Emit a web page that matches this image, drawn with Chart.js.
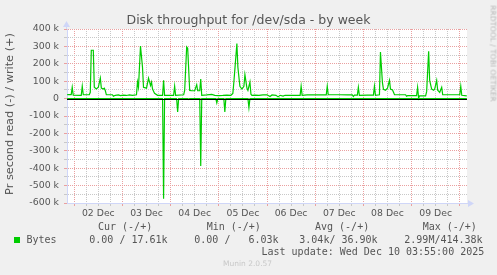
<!DOCTYPE html>
<html>
<head>
<meta charset="utf-8">
<script src="https://cdn.jsdelivr.net/npm/chart.js@4.4.1/dist/chart.umd.min.js"></script>
<style>
  html, body { margin: 0; padding: 0; background: #f0f0f0; }
  #wrap { position: relative; width: 497px; height: 275px; overflow: hidden; }
  #chart { position: absolute; left: 0; top: 0; }
  .txt { position: absolute; white-space: pre; color: #555; }
  .sans { font-family: "DejaVu Sans", sans-serif; }
  .mono { font-family: "DejaVu Sans Mono", monospace; font-size: 10px; line-height: 12px; }
</style>
</head>
<body>
<div id="wrap">
  <canvas id="chart" width="497" height="275"></canvas>
  <div class="txt sans" id="title" style="left:0; width:497px; text-align:center; top:13px; font-size:12.5px; line-height:13px;"></div>
  <div class="txt sans" id="ylabel" style="left:-90px; top:108px; width:200px; text-align:center; font-size:11.3px; line-height:12px; transform:rotate(-90deg);"></div>
  <div class="txt sans" id="side" style="left:443px; top:49px; width:100px; text-align:center; font-size:7.5px; line-height:9px; color:#b8b8b8; transform:rotate(90deg);"></div>
  <div id="legend"></div>
  <div class="txt sans" id="munin" style="left:223px; top:259px; font-size:7.5px; line-height:10px; color:#c8c8c8;"></div>
</div>
<script>
// hours since 01 Dec 00:00, throughput in k
const writeHours = [20.5, 22.5, 23.0, 23.5, 27.5, 28.0, 28.5, 31.5, 32.0, 32.5, 33.5, 34.0, 35.0, 36.0, 37.0, 37.5, 38.5, 39.0, 39.5, 40.0,
  43.0, 43.5, 44.5, 46.0, 47.0, 48.5, 50.0, 51.5, 53.0, 55.0, 55.5, 56.0, 57.0, 58.0, 58.5, 60.0, 61.0, 62.0, 62.5, 63.0,
  64.0, 65.5, 68.0, 68.5, 69.0, 73.5, 74.0, 74.5, 78.5, 79.0, 80.0, 80.5, 81.5, 82.5, 84.0, 85.0, 85.5, 86.5, 87.0, 87.5,
  90.0, 92.5, 94.0, 96.0, 98.0, 100.0, 102.0, 103.0, 103.5, 105.0, 105.5, 106.5, 107.5, 108.5, 109.0, 110.0, 110.5, 111.5, 112.0, 112.5,
  114.0, 116.0, 118.0, 120.0, 121.5, 122.5, 124.5, 125.5, 126.5, 128.0, 129.0, 136.5, 137.0, 137.5, 140.0, 149.5, 150.0, 150.5, 156.0, 160.0,
  162.5, 163.0, 163.5, 165.0, 165.5, 166.0, 170.0, 173.0, 173.5, 174.0, 176.0, 176.5, 177.5, 178.0, 179.0, 180.0, 181.0, 181.5, 182.5, 183.0,
  183.5, 189.0, 189.5, 190.0, 194.5, 195.0, 195.5, 196.0, 199.0, 199.5, 200.5, 201.0, 202.0, 203.0, 203.5, 204.5, 205.0, 206.0, 207.0, 207.5,
  216.0, 216.5, 217.0, 219.5];
const writeKB = [23, 23, 65, 20, 19, 71, 22, 22, 36, 278, 278, 65, 55, 65, 118, 60, 55, 60, 45, 22,
  22, 14, 19, 21, 17, 20, 18, 21, 19, 22, 95, 65, 302, 180, 65, 60, 118, 75, 95, 55,
  30, 19, 19, 105, 19, 19, 71, 19, 22, 47, 297, 290, 47, 45, 45, 80, 45, 45, 112, 19,
  21, 24, 19, 17, 18, 20, 19, 30, 95, 316, 180, 71, 55, 71, 138, 60, 47, 95, 25, 19,
  20, 19, 21, 22, 12, 21, 19, 10, 19, 14, 19, 19, 71, 19, 21, 21, 71, 22, 22, 21,
  21, 12, 20, 20, 65, 19, 20, 20, 71, 19, 22, 268, 90, 53, 48, 60, 105, 55, 50, 36,
  22, 22, 14, 17, 17, 65, 3, 16, 16, 40, 272, 105, 55, 48, 55, 105, 48, 36, 65, 22,
  22, 71, 19, 16];

const readHours = [20.5, 68.0, 68.5, 69.0, 75.0, 75.5, 76.0, 80.5, 81.0, 81.5, 86.5, 87.0, 87.5,
  94.5, 95.0, 95.5, 98.5, 99.0, 99.5, 110.5, 111.0, 111.5, 195.0, 195.5, 196.0, 219.5];
const readKB = [0, 0, 575, 0, 0, 77, 0, 0, 5, 0, 0, 387, 0,
  0, 25, 0, 0, 77, 0, 0, 52, 0, 0, 5, 0, 0];

const dayLabels = ['02 Dec', '03 Dec', '04 Dec', '05 Dec', '06 Dec', '07 Dec', '08 Dec', '09 Dec'];
const yTicks = [-600, -550, -500, -450, -400, -350, -300, -250, -200, -150, -100, -50, 0,
  50, 100, 150, 200, 250, 300, 350, 400];

const legendHeaders = ['Cur (-/+)', 'Min (-/+)', 'Avg (-/+)', 'Max (-/+)'];
const legendValues = ['0.00 / 17.61k', '0.00 /   6.03k', '3.04k/ 36.90k', '2.99M/414.38k'];

const GREEN = '#00cc00';
const AXIS = '#cfd6f8';
const MGRID = '#eaa0a0';
const GRID = '#c8c8c8';

// texts
document.getElementById('title').textContent = 'Disk throughput for /dev/sda - by week';
document.getElementById('ylabel').textContent = 'Pr second read (-) / write (+)';
document.getElementById('side').textContent = 'RRDTOOL / TOBI OETIKER';
document.getElementById('munin').textContent = 'Munin 2.0.57';

const legend = document.getElementById('legend');
const headerX = [98, 206.7, 315, 422.7];
const valueX = [89.3, 194.3, 299.3, 404.3];
let html = '';
legendHeaders.forEach((t, i) => {
    html += `<div class="txt mono" style="left:${headerX[i]}px; top:221px;">${t}</div>`;
});
html += `<div style="position:absolute; left:14px; top:237px; width:6px; height:6px; background:${GREEN};"></div>`;
html += `<div class="txt mono" style="left:26.5px; top:234px;">Bytes</div>`;
legendValues.forEach((t, i) => {
    html += `<div class="txt mono" style="left:${valueX[i]}px; top:234px;">${t}</div>`;
});
html += `<div class="txt mono" style="left:261.5px; top:246px;">Last update: Wed Dec 10 03:55:00 2025</div>`;
legend.innerHTML = html;

// x grid every 6 hours from 02 Dec 00:00 to 10 Dec 00:00
const xTicks = [];
for (let h = 24; h <= 24 * (dayLabels.length + 1); h += 6) xTicks.push(h);

const canvasBg = {
    id: 'canvasBg',
    beforeDraw(chart) {
        const { ctx, chartArea: a } = chart;
        ctx.save();
        ctx.fillStyle = '#ffffff';
        ctx.fillRect(a.left, a.top, a.right - a.left, a.bottom - a.top);
        ctx.restore();
    }
};

const zeroLine = {
    id: 'zeroLine',
    afterDatasetsDraw(chart) {
        const { ctx, chartArea: a, scales } = chart;
        const y = Math.round(scales.y.getPixelForValue(0)) + 0.5;
        ctx.save();
        ctx.strokeStyle = '#000000';
        ctx.lineWidth = 1;
        ctx.beginPath();
        ctx.moveTo(a.left, y);
        ctx.lineTo(a.right, y);
        ctx.stroke();
        ctx.restore();
    }
};

const arrows = {
    id: 'arrows',
    afterDraw(chart) {
        const { ctx, chartArea: a } = chart;
        const x = Math.round(a.left) - 0.5;
        const y = Math.round(a.bottom) + 0.5;
        ctx.save();
        ctx.strokeStyle = AXIS;
        ctx.fillStyle = AXIS;
        ctx.lineWidth = 1;
        ctx.beginPath();
        ctx.moveTo(x, a.top);
        ctx.lineTo(x, a.top - 3);
        ctx.moveTo(a.right, y);
        ctx.lineTo(a.right + 3, y);
        ctx.stroke();
        ctx.beginPath();
        ctx.moveTo(x - 3.5, a.top - 2);
        ctx.lineTo(x + 3.5, a.top - 2);
        ctx.lineTo(x, a.top - 8);
        ctx.closePath();
        ctx.fill();
        ctx.beginPath();
        ctx.moveTo(a.right + 1, y - 3.5);
        ctx.lineTo(a.right + 1, y + 3.5);
        ctx.lineTo(a.right + 7, y);
        ctx.closePath();
        ctx.fill();
        ctx.restore();
    }
};

new Chart(document.getElementById('chart'), {
    type: 'line',
    data: {
        datasets: [{
            label: 'read',
            data: readHours.map((h, i) => ({ x: h, y: -readKB[i] })),
            borderColor: GREEN,
            borderWidth: 1.2,
            pointRadius: 0,
            tension: 0
        }, {
            label: 'write',
            data: writeHours.map((h, i) => ({ x: h, y: writeKB[i] })),
            borderColor: GREEN,
            borderWidth: 1.2,
            pointRadius: 0,
            tension: 0
        }]
    },
    options: {
        responsive: false,
        animation: false,
        events: [],
        layout: { padding: { top: 29, right: 30, bottom: 52, left: 0 } },
        plugins: {
            legend: { display: false },
            tooltip: { enabled: false },
            title: { display: false }
        },
        scales: {
            x: {
                type: 'linear',
                min: 20.4,
                max: 219.6,
                afterBuildTicks: (s) => { s.ticks = xTicks.map(v => ({ value: v })); },
                afterFit: (s) => { s.height = 20; },
                ticks: {
                    autoSkip: false,
                    maxRotation: 0,
                    padding: 2,
                    color: '#555',
                    font: { family: 'DejaVu Sans', size: 9.3 },
                    callback: (v) => (v % 24 === 12 ? dayLabels[(v - 12) / 24 - 1] : '')
                },
                grid: {
                    color: (c) => (c.tick && c.tick.value % 24 === 0 ? MGRID : GRID),
                    tickColor: (c) => (c.tick && c.tick.value % 24 === 0 ? MGRID : GRID),
                    lineWidth: 1,
                    tickLength: 3
                },
                border: { color: AXIS, width: 1, dash: [1, 1] }
            },
            y: {
                type: 'linear',
                min: -600,
                max: 400,
                afterBuildTicks: (s) => { s.ticks = yTicks.map(v => ({ value: v })); },
                afterFit: (s) => { s.width = 67; },
                ticks: {
                    autoSkip: false,
                    padding: 5,
                    color: '#555',
                    font: { family: 'DejaVu Sans', size: 9.4 },
                    callback: (v) => (v % 100 === 0 ? (v === 0 ? '0' : v + ' k') : '')
                },
                grid: {
                    color: (c) => (c.tick && c.tick.value % 100 === 0 ? MGRID : GRID),
                    tickColor: (c) => (c.tick && c.tick.value % 100 === 0 ? MGRID : GRID),
                    lineWidth: 1,
                    tickLength: 3
                },
                border: { color: AXIS, width: 1, dash: [1, 1] }
            }
        }
    },
    plugins: [canvasBg, zeroLine, arrows]
});
</script>
</body>
</html>
